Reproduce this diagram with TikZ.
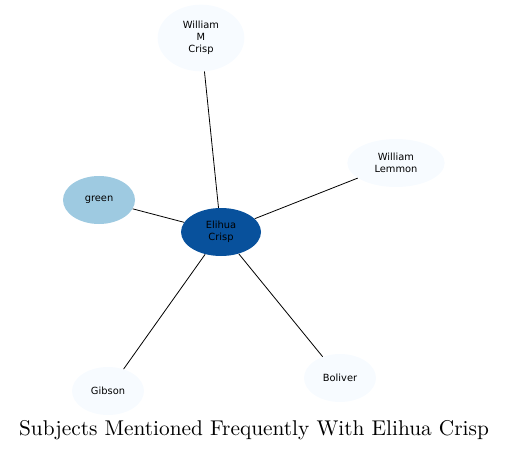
\documentclass[tikz,border=0pt]{standalone}
\usepackage{fontspec}
\newfontfamily\dejavu{DejaVu Sans}
\definecolor{BlueDark}{HTML}{08519C}
\definecolor{BlueLight}{HTML}{9ECAE1}
\definecolor{BluePale}{HTML}{F7FBFF}
\usetikzlibrary{shapes.geometric}

\begin{document}
\begin{tikzpicture}[
      x=0.75pt, y=-0.75pt,
      font=\dejavu\fontsize{7.4pt}{9pt}\selectfont,
      subj/.style={ellipse, draw=none, fill=BluePale, inner sep=0pt, align=center,
        minimum width=54pt, minimum height=36pt},
      edge/.style={draw=black, line width=0.6pt}
    ]
      \useasboundingbox (0,0) rectangle (509,452);
      % center subject and the ones mentioned with it
      \node[subj, fill=BlueDark, minimum width=60pt] (elihua) at (221, 232) {Elihua\\Crisp};
      \node[subj, minimum width=65pt, minimum height=50pt] (wmcrisp) at (201, 38) {William\\M\\Crisp};
      \node[subj, minimum width=73pt] (lemmon) at (396, 163) {William\\Lemmon};
      \node[subj, fill=BlueLight] (green) at (99, 200) {green};
      \node[subj] (gibson) at (108, 391) {Gibson};
      \node[subj] (boliver) at (340, 378) {Boliver};
      \foreach \other in {wmcrisp, lemmon, green, gibson, boliver}
        \draw[edge] (elihua) -- (\other);
      \node[font=\rmfamily\fontsize{10pt}{12pt}\selectfont] (title) at (254, 430)
        {\scalebox{1.6}{Subjects Mentioned Frequently With Elihua Crisp}};
    \end{tikzpicture}
\end{document}
